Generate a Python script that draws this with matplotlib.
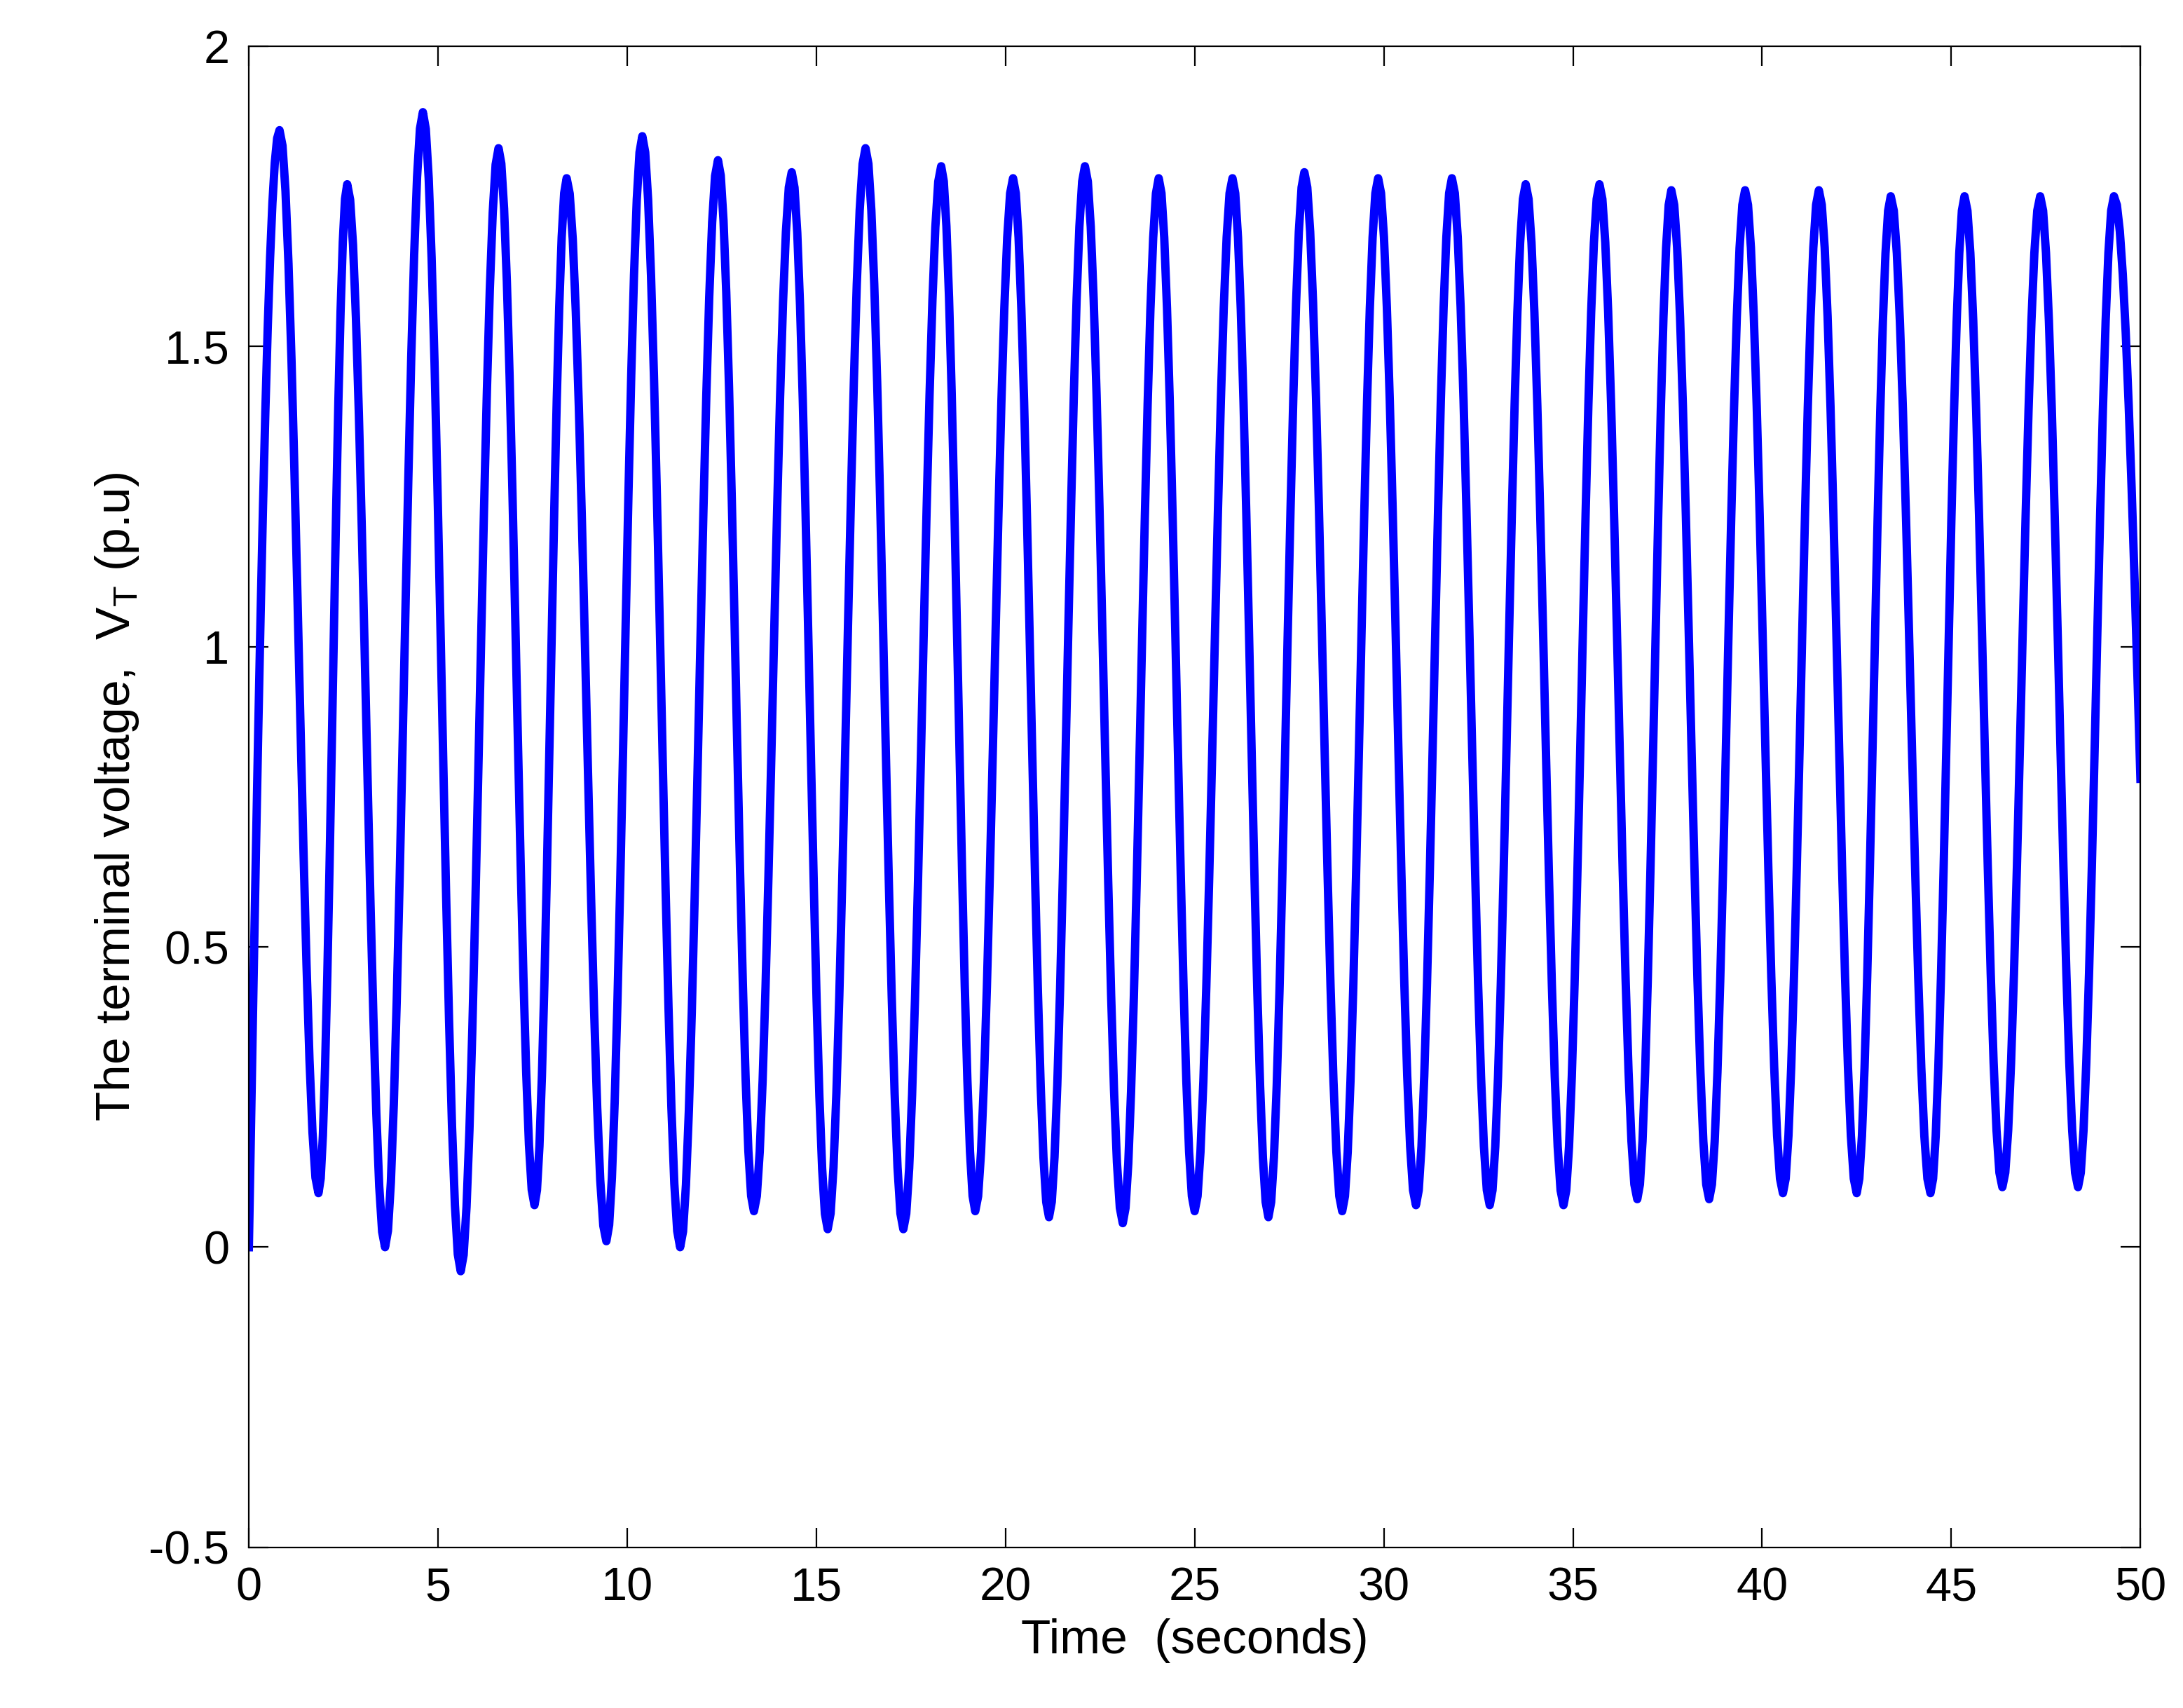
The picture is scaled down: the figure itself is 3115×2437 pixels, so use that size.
import numpy as np
import matplotlib
matplotlib.use("Agg")
import matplotlib.pyplot as plt

plt.rcParams['font.family'] = ['Liberation Sans', 'DejaVu Sans']
plt.rcParams['mathtext.fontset'] = 'custom'
plt.rcParams['mathtext.rm'] = 'Liberation Sans'

# extrema of terminal voltage (time s, value p.u.)
t_ext = [0.0, 0.81, 1.84, 2.6, 3.6, 4.6, 5.6, 6.6, 7.55, 8.4, 9.45, 10.4, 11.4, 12.4, 13.35,
         14.35, 15.3, 16.3, 17.3, 18.3, 19.2, 20.2, 21.15, 22.1, 23.1, 24.05, 25.0, 26.0,
         26.95, 27.9, 28.9, 29.85, 30.85, 31.8, 32.8, 33.75, 34.75, 35.7, 36.7, 37.6, 38.6,
         39.55, 40.55, 41.5, 42.5, 43.4, 44.45, 45.35, 46.35, 47.35, 48.35, 49.3, 50.0]
v_ext = [0.0, 1.86, 0.09, 1.77, 0.0, 1.89, -0.04, 1.83, 0.07, 1.78, 0.01, 1.85, 0.0, 1.81, 0.06,
         1.79, 0.03, 1.83, 0.03, 1.80, 0.06, 1.78, 0.05, 1.80, 0.04, 1.78, 0.06, 1.78,
         0.05, 1.79, 0.06, 1.78, 0.07, 1.78, 0.07, 1.77, 0.07, 1.77, 0.08, 1.76, 0.08,
         1.76, 0.09, 1.76, 0.09, 1.75, 0.09, 1.75, 0.10, 1.75, 0.10, 1.75, 0.78]

# smooth rendering between extrema (half-cosine segments)
ts, vs = [], []
for i in range(len(t_ext) - 1):
    t0, t1, v0, v1 = t_ext[i], t_ext[i+1], v_ext[i], v_ext[i+1]
    last = i == len(t_ext) - 2
    if i == 0:
        s = np.linspace(0, 1, 14)
        ts += list(t0 + (t1 - t0) * s); vs += list(v0 + (v1 - v0) * np.sin(s * np.pi / 2))
        continue
    if last:
        s = np.linspace(0, 1, 10)
        ts += list(t0 + (t1 - t0) * s); vs += list(v0 + (v1 - v0) * (1 - np.cos(s * np.pi / 2)))
        continue
    s = np.linspace(0, 1, 14)[1:]
    ts += list(t0 + (t1 - t0) * s); vs += list(v0 + (v1 - v0) * (1 - np.cos(s * np.pi)) / 2)

fig = plt.figure(figsize=(15.575, 12.185), dpi=200)
ax = fig.add_axes([0.114, 0.094, 0.8665, 0.879])
ax.plot(ts, vs, color='#0000ff', lw=4.3)
ax.set_xlim(0, 50); ax.set_ylim(-0.5, 2)
ax.set_xticks(range(0, 51, 5))
ax.set_yticks([-0.5, 0, 0.5, 1, 1.5, 2])
ax.set_yticklabels(['-0.5', '0', '0.5', '1', '1.5', '2'])
ax.tick_params(direction='in', top=True, right=True, labelsize=24, length=10, pad=10)
ax.set_xlabel('Time  (seconds)', fontsize=25)
ax.set_ylabel(r'The terminal voltage,  V$_\mathrm{T}$ (p.u)', fontsize=25)
fig.savefig('out.png', dpi=200)
